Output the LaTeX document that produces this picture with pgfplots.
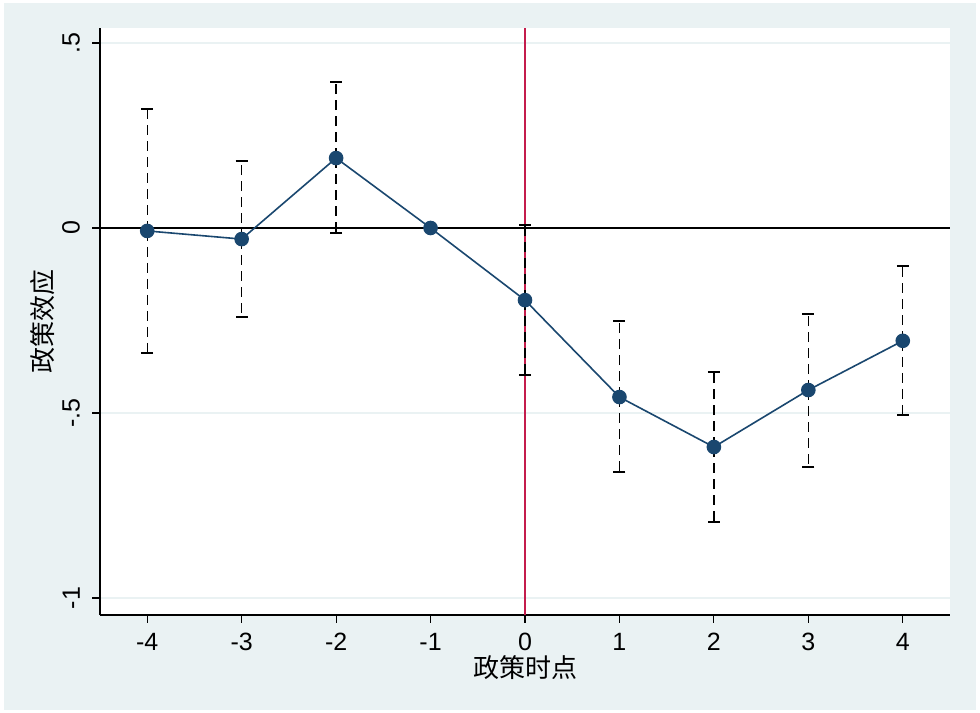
\documentclass[border=0pt]{standalone}
\usepackage{pgfplots}
\pgfplotsset{compat=1.18}
\usepackage{pgfplotstable}
\usepackage{fontspec}
\setmainfont{Liberation Sans}
\newfontfamily\cjk{Noto Sans CJK SC}
\definecolor{bgc}{RGB}{234,242,243}
\definecolor{gridc}{RGB}{234,242,243}
\definecolor{navy}{RGB}{26,71,111}
\definecolor{crim}{RGB}{196,28,76}
\pgfplotstableread{
x y hi lo
-4 -0.008 0.322 -0.338
-3 -0.030 0.181 -0.241
-2 0.189 0.395 -0.014
0 -0.195 0.008 -0.397
1 -0.457 -0.251 -0.659
2 -0.592 -0.389 -0.795
3 -0.438 -0.232 -0.646
4 -0.305 -0.103 -0.505
}\cidata
\pgfplotstableread{
x y
-4 -0.008
-3 -0.030
-2 0.189
-1 0.000
0 -0.195
1 -0.457
2 -0.592
3 -0.438
4 -0.305
}\coefdata
\begin{document}
\begin{tikzpicture}
\fill[white] (0,0) rectangle (980bp,713bp);
\fill[bgc] (4bp,3bp) rectangle (976bp,710bp);
\begin{axis}[
  at={(100bp,98bp)}, anchor=south west,
  scale only axis, width=850bp, height=587bp,
  xmin=-4.5, xmax=4.5, ymin=-1.046, ymax=0.5405,
  axis background/.style={fill=white},
  axis x line*=bottom, axis y line*=left,
  axis line style={black, line width=1.2bp, -},
  tick align=outside, major tick length=8bp,
  tick style={black, line width=1.2bp},
  xtick={-4,-3,-2,-1,0,1,2,3,4},
  xticklabels={{-4},{-3},{-2},{-1},{0},{1},{2},{3},{4}},
  ytick={-1,-0.5,0,0.5},
  yticklabels={{-1},{-.5},{0},{.5}},
  ymajorgrids, major grid style={gridc, line width=1.8bp},
  /pgf/number format/assume math mode=true,
  ticklabel style={font=\fontsize{25bp}{30bp}\selectfont, inner sep=0pt},
  xticklabel style={anchor=north},
  xticklabel shift=10bp,
  yticklabel style={rotate=90, anchor=south},
  yticklabel shift=12bp,
  xlabel={\cjk 政策时点},
  ylabel={\cjk 政策效应},
  label style={font=\fontsize{26bp}{30bp}\selectfont, inner sep=0pt},
  xlabel style={at={(axis description cs:0.5,-0.0895)}, anchor=center},
  ylabel style={at={(axis description cs:-0.0671,0.5)}, anchor=center},
  clip=false,
]
\addplot[black, line width=1.6bp] coordinates {(-4.5,0) (4.5,0)};
\addplot[crim, line width=1.8bp] coordinates {(0,-1.046) (0,0.5405)};
\addplot[draw=none, mark=none,
  error bars/.cd, y dir=both, y explicit,
  error bar style={black, line width=1.4bp, dash pattern=on 10bp off 6bp},
  error mark options={black, solid, rotate=90, mark size=6bp, line width=1.4bp}]
  table[x=x, y=y, y error plus expr=\thisrow{hi}-\thisrow{y}, y error minus expr=\thisrow{y}-\thisrow{lo}] {\cidata};
\addplot[navy, line width=1.6bp, mark=*, mark size=6.5bp, mark options={fill=navy, draw=navy}]
  table[x=x, y=y] {\coefdata};
\end{axis}
\end{tikzpicture}
\end{document}
